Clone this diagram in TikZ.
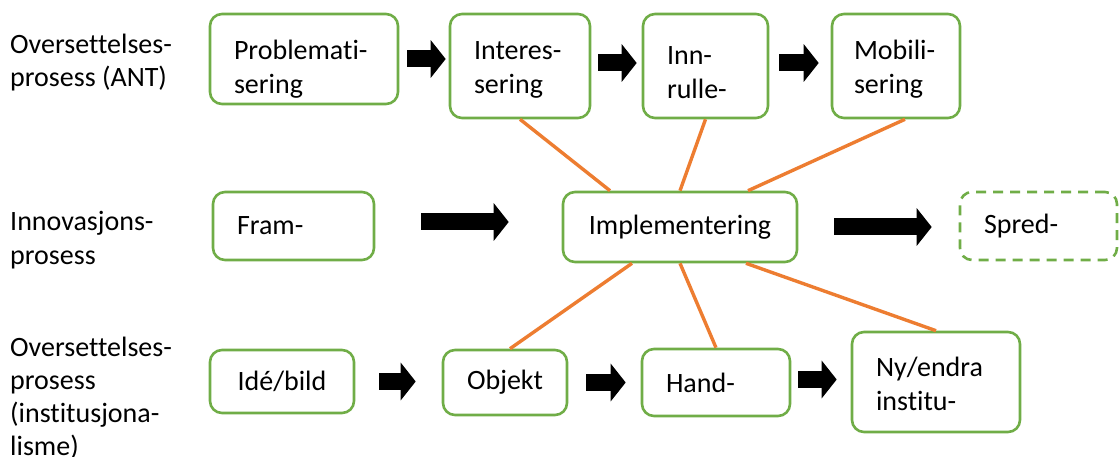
\documentclass[tikz,border=0pt]{standalone}
\usepackage{fontspec}
\setmainfont{Carlito}[Ligatures=NoCommon]
\usetikzlibrary{arrows.meta}
\hyphenpenalty=10000
\exhyphenpenalty=10000
\definecolor{grn}{HTML}{70AD47}
\definecolor{org}{HTML}{ED7D31}
\tikzset{>=stealth,
  box/.style={draw=grn, line width=2.6pt, rounded corners=12pt, fill=white,
    inner xsep=24pt, inner ysep=0pt, align=left, font=\fontsize{28}{34}\selectfont},
  boxc/.style={box, align=center},
  blk/.style={line width=17pt, -{Triangle[length=15pt, width=37pt]}},
  link/.style={draw=org, line width=3.4pt},
  lbl/.style={anchor=base west, align=left, inner sep=0pt, font=\fontsize{28}{33}\selectfont}}

\begin{document}
\begin{tikzpicture}[x=1pt, y=-1pt]
\useasboundingbox (0,0) rectangle (1119,457);
% left labels
\node[lbl] (ant) at (10,87) {Oversettelses-\\prosess (ANT)};
\node[lbl] (inno) at (10,264) {Innovasjons-\\prosess};
\node[lbl] (inst) at (10,455) {Oversettelses-\\prosess\\(institusjona-\\lisme)};
% ANT row
\node[box, text width=140pt, minimum height=90pt] (prob) at (304,59) {\rule{0pt}{40pt}Problemati-\\sering};
\node[box, text width=92pt, minimum height=104pt] (inter) at (520,66) {\rule{0pt}{26pt}Interes-\\sering};
\node[box, text width=77pt, minimum height=104pt] (inn) at (705.5,66) {\rule{0pt}{32pt}Inn-\\rulle-};
\node[box, text width=84pt, inner xsep=22pt, minimum height=104pt] (mob) at (896,66) {\rule{0pt}{26pt}Mobili-\\sering};
% innovation row
\node[box, text width=113pt, minimum height=68pt] (fram) at (293.5,226) {Fram-};
\node[boxc, text width=186pt, minimum height=70pt] (impl) at (680,227) {Implementering};
\node[box, dash pattern=on 10pt off 7pt, text width=109pt, minimum height=68pt] (spred) at (1038.5,226) {Spred-};
% institution row
\node[boxc, text width=96pt, minimum height=63pt] (ide) at (282,381.5) {Idé/bild};
\node[boxc, text width=76pt, minimum height=65pt] (obj) at (505,382.5) {Objekt};
\node[box, text width=100pt, minimum height=67pt] (hand) at (716,382.5) {Hand-};
\node[box, text width=120pt, minimum height=100pt] (ny) at (936,382) {\rule{0pt}{24pt}Ny/endra\\institu-};
% links to implementation
\draw[link] ([xshift=-70]impl.north) -- (inter.south);
\draw[link] (impl.north) -- (inn.south);
\draw[link] ([xshift=68]impl.north) -- ([xshift=9]mob.south);
\draw[link] ([xshift=-48]impl.south) -- ([xshift=5]obj.north);
\draw[link] (impl.south) -- (hand.north);
\draw[link] ([xshift=66]impl.south) -- (ny.north);
% block arrows
\draw[blk] ([xshift=8]prob.east) -- ([xshift=-3]prob.east -| inter.west);
\draw[blk] ([xshift=7,yshift=3]inter.east) -- ([xshift=-5,yshift=3]inn.west);
\draw[blk] ([xshift=10,yshift=3]inn.east) -- ([xshift=-12,yshift=3]mob.west);
\draw[blk] ([xshift=46,yshift=4]fram.east) -- ([xshift=-53,yshift=4]fram.east -| impl.west);
\draw[blk] ([xshift=36]impl.east) -- ([xshift=-27]impl.east -| spred.west);
\draw[blk] ([xshift=24]ide.east) -- ([xshift=-26]ide.east -| obj.west);
\draw[blk] ([xshift=18]obj.east) -- ([xshift=-15]obj.east -| hand.west);
\draw[blk] ([xshift=7,yshift=3]hand.east) -- ([xshift=-14,yshift=3]hand.east -| ny.west);
\end{tikzpicture}
\end{document}
